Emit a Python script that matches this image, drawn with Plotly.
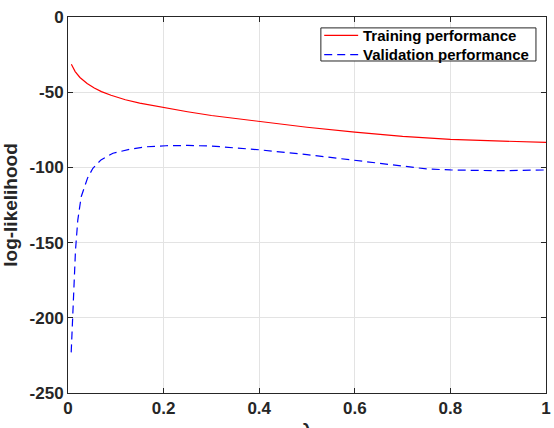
import plotly.graph_objects as go

train_x = [0.007, 0.015, 0.025, 0.04, 0.055, 0.07, 0.09, 0.12, 0.15, 0.2, 0.25, 0.3, 0.4, 0.5, 0.6, 0.7, 0.8, 0.9, 1.0]
train_y = [-31.4, -36.3, -40.2, -44.2, -47.2, -49.6, -52.0, -55.0, -57.3, -60.3, -63.0, -65.5, -69.3, -73.3, -76.5, -79.4, -81.4, -82.6, -83.4]

val_x = [0.0067, 0.010, 0.0136, 0.0157, 0.0205, 0.0276, 0.041, 0.052, 0.069, 0.094, 0.129, 0.163, 0.205, 0.25, 0.3, 0.4, 0.5, 0.6, 0.67, 0.75, 0.8, 0.9, 1.0]
val_y = [-223, -200, -174, -155, -135, -119.5, -107, -100.6, -95, -90.6, -88, -86.3, -85.6, -85.4, -85.8, -88.3, -91.5, -95.3, -98.4, -101, -101.7, -102.2, -101.7]

x_ticks = [0, 0.2, 0.4, 0.6, 0.8, 1]
x_tick_labels = ["0", "0.2", "0.4", "0.6", "0.8", "1"]
y_ticks = [-250, -200, -150, -100, -50, 0]
y_tick_labels = ["-250", "-200", "-150", "-100", "-50", "0"]

series_names = ["Training performance", "Validation performance"]
series_colors = ["#ff0000", "#0000ff"]
series_dash = ["solid", "8px,5px"]

x_title = "λ"
y_title = "log-likelihood"

FONT = "Liberation Sans, Arial, Helvetica, sans-serif"
DARK = "#262626"

fig = go.Figure()
fig.add_trace(go.Scatter(x=train_x, y=train_y, mode="lines", name=series_names[0],
                         line=dict(color=series_colors[0], width=1.2, dash=series_dash[0])))
fig.add_trace(go.Scatter(x=val_x, y=val_y, mode="lines", name=series_names[1],
                         line=dict(color=series_colors[1], width=1.2, dash=series_dash[1])))

axis_common = dict(
    showline=True, linecolor=DARK, linewidth=1, mirror="ticks",
    ticks="inside", ticklen=5, tickcolor=DARK,
    showgrid=True, gridcolor="#e3e3e3", gridwidth=1, zeroline=False,
    tickfont=dict(family=FONT, size=17, color=DARK, weight="bold"),
)

# Compact MATLAB-style legend box (paper coordinates)
box_x0, box_x1, box_y0, box_y1 = 0.529, 0.979, 0.883, 0.971
sample_x0, sample_x1, text_x = 0.536, 0.607, 0.614
row_y = [0.951, 0.900]

shapes = [dict(type="rect", xref="paper", yref="paper", x0=box_x0, x1=box_x1, y0=box_y0, y1=box_y1,
               line=dict(color=DARK, width=1), fillcolor="white", layer="above")]
annotations = []
for name, color, dash, yy in zip(series_names, series_colors, series_dash, row_y):
    shapes.append(dict(type="line", xref="paper", yref="paper", x0=sample_x0, x1=sample_x1, y0=yy, y1=yy,
                       line=dict(color=color, width=1.2, dash=dash), layer="above"))
    annotations.append(dict(xref="paper", yref="paper", x=text_x, y=yy, xanchor="left", yanchor="middle",
                            text=name, showarrow=False,
                            font=dict(family=FONT, size=15, color="black", weight="bold")))

# x-axis title sits partly below the visible page, as in the original
annotations.append(dict(xref="paper", yref="paper", x=0.5, y=-0.066, xanchor="center", yanchor="top",
                        text=x_title, showarrow=False,
                        font=dict(family=FONT, size=19, color=DARK, weight="bold")))

fig.update_layout(
    width=554, height=428,
    margin=dict(l=68, r=8, t=17, b=35),
    paper_bgcolor="white", plot_bgcolor="white",
    showlegend=False,
    shapes=shapes,
    annotations=annotations,
    xaxis=dict(range=[0, 1], tickvals=x_ticks, ticktext=x_tick_labels,
               automargin=False, **axis_common),
    yaxis=dict(range=[-250, 0], tickvals=y_ticks, ticktext=y_tick_labels,
               title=dict(text=y_title, font=dict(family=FONT, size=19, color=DARK, weight="bold"), standoff=6),
               automargin=False, **axis_common),
)

fig.write_html("out.html")
